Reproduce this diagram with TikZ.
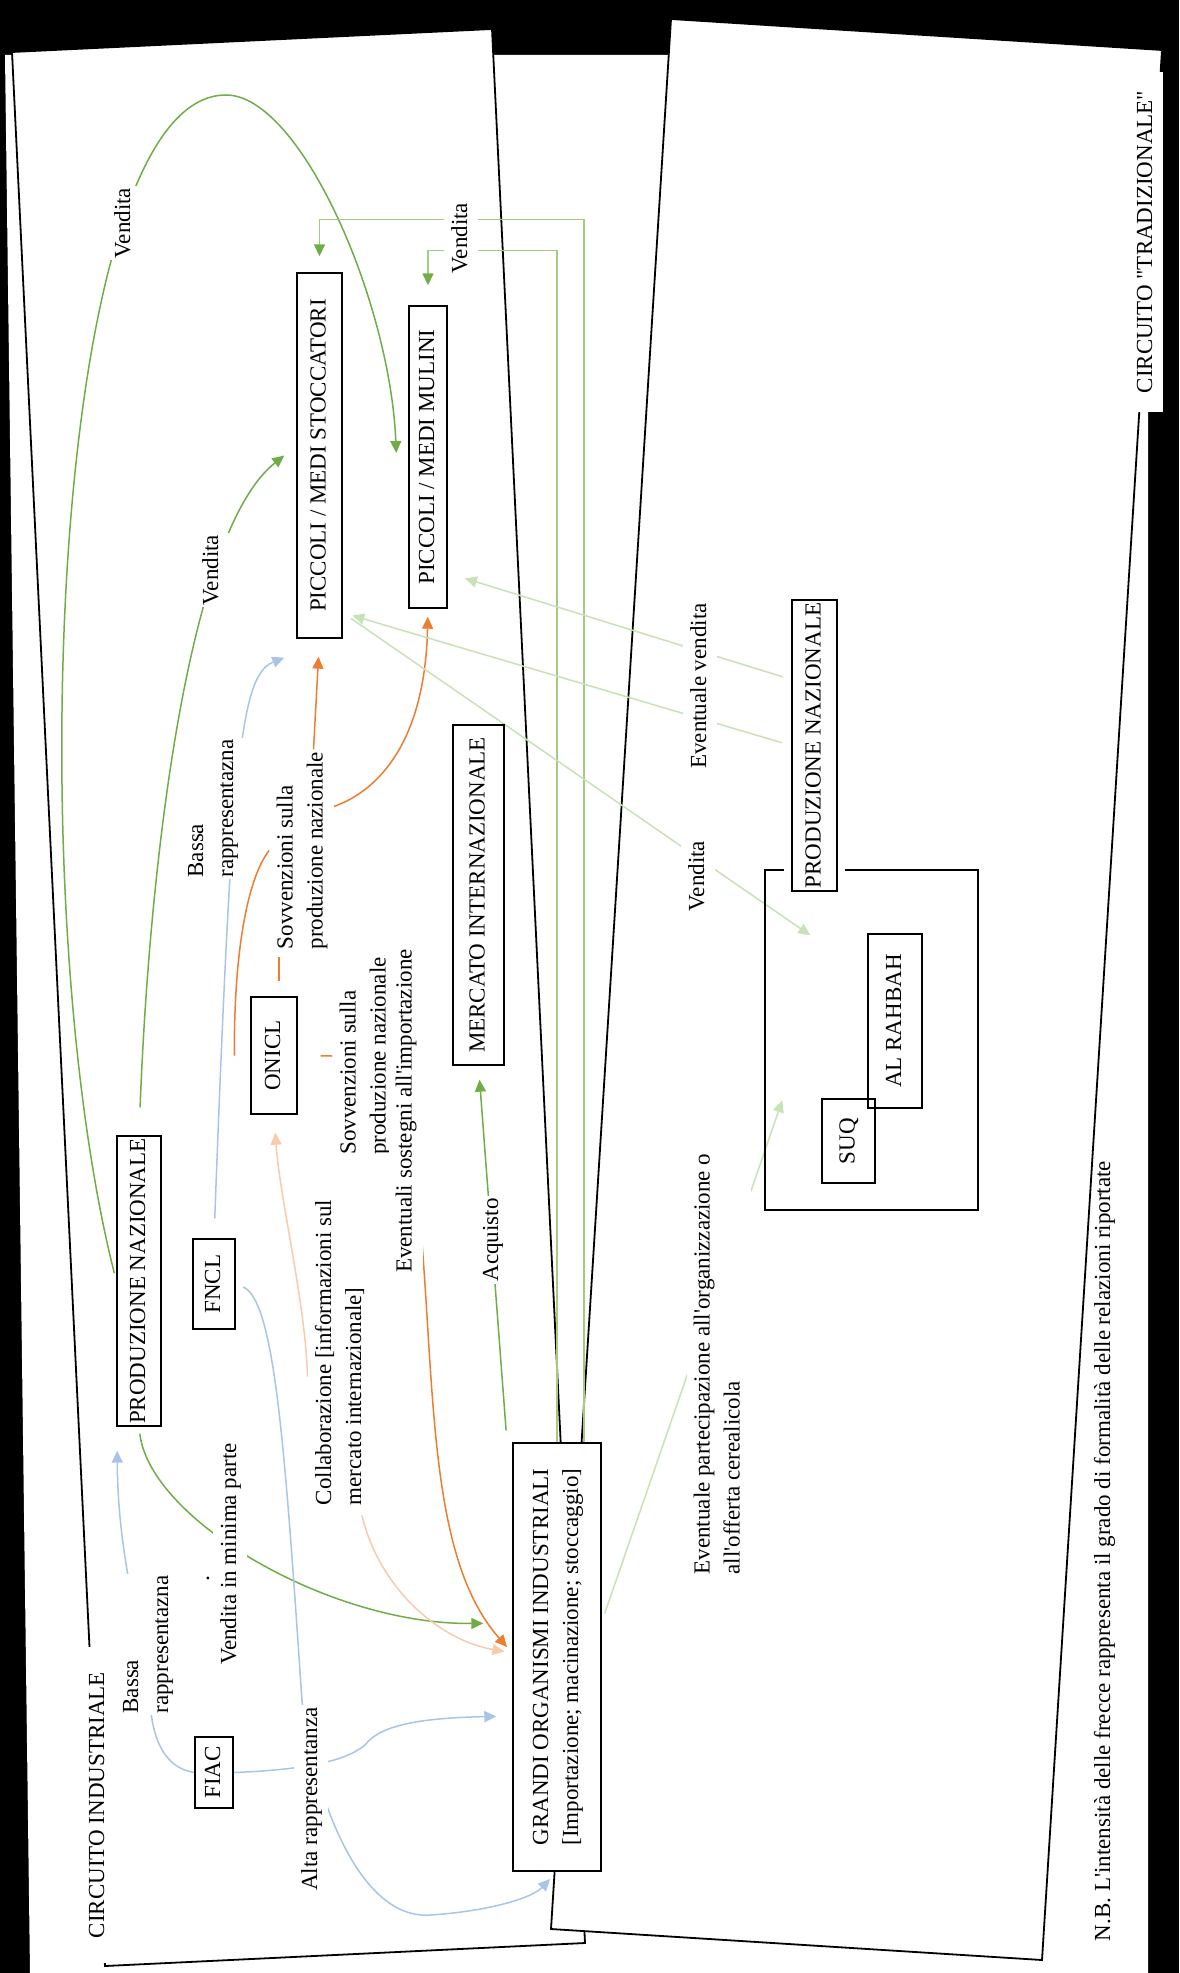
\documentclass[tikz,border=0pt]{standalone}
\usepackage{fontspec}
\setmainfont{Liberation Serif}[Ligatures=TeXOff]
\usepackage{graphicx}
\usetikzlibrary{arrows.meta}

\definecolor{gdark}{RGB}{112,173,71}
\definecolor{glite}{RGB}{160,205,130}
\definecolor{gpale}{RGB}{200,226,184}
\definecolor{orng}{RGB}{237,125,49}
\definecolor{opale}{RGB}{248,203,173}
\definecolor{blu}{RGB}{170,196,232}

\pgfdeclarelayer{back}
\pgfdeclarelayer{mid}
\pgfsetlayers{back,mid,main}

\newcommand{\vtxt}[1]{\rotatebox{90}{\begin{tabular}{@{}l@{}}#1\end{tabular}}}

\tikzset{
  box/.style={draw, fill=white, line width=0.7pt, inner sep=0pt},
  tbox/.style={draw, line width=0.7pt, inner sep=0pt},
  lbl/.style={fill=white, inner sep=1pt},
  panel/.style={draw, fill=white, line width=0.9pt},
  halo/.style={preaction={draw=white, line width=8pt}},
  con/.style={line width=0.75pt},
  tip/.style={-{Triangle[length=6pt,width=5.5pt]}},
}

\begin{document}
\begin{tikzpicture}[x=0.5pt, y=-0.5pt, font=\fontsize{11.5}{15}\selectfont]
\useasboundingbox (0,0) rectangle (1179,1973);

\begin{pgfonlayer}{back}
\fill[black] (0,0) rectangle (1179,1973);
\fill[white] (5,55) -- (1148,55) -- (1148,1973) -- (30,1973) -- cycle;
% the two circuits
\draw[panel] (12,52) -- (492,29) -- (585,1943) -- (105,1966) -- cycle;
\draw[panel] (671,19) -- (1162,50) -- (1042,1960) -- (551,1929) -- cycle;
\end{pgfonlayer}

% traditional market
\node[tbox, minimum width=106.5pt, minimum height=170pt] (trad) at (871.5,1040) {};
\node[tbox, minimum width=27pt, minimum height=87pt] (rahbah) at (895,1021) {\vtxt{AL RAHBAH}};
\node[tbox, minimum width=26.5pt, minimum height=42pt] (suq) at (848.5,1141) {\vtxt{SUQ}};

% labels
\node[lbl] (lv1) at (124,223) {\vtxt{Vendita}};
\node[lbl] (lv2) at (212,570) {\vtxt{Vendita}};
\node[lbl] (lv3) at (461,238) {\vtxt{Vendita}};
\node[lbl] (lb1) at (212,808.5) {\vtxt{Bassa\\rappresentazna}};
\node[lbl] (ls1) at (301.5,850.5) {\vtxt{Sovvenzioni sulla\\produzione nazionale}};
\node[lbl] (ls2) at (364.5,1056) {\vtxt{Sovvenzioni sulla\\produzione nazionale}};
\node[lbl] (les) at (405.5,1111) {\vtxt{Eventuali sostegni all'importazione}};
\node[lbl] (lc) at (340,1352.5) {\vtxt{Collaborazione [informazioni sul\\mercato internazionale]}};
\node[lbl] (lacq) at (492,1240) {\vtxt{Acquisto}};
\node[lbl] (lvmp) at (230,1554) {\vtxt{Vendita in minima parte}};
\node[inner sep=0pt] (dot) at (208,1578) {.};
\node[lbl] (lb2) at (147,1644.5) {\vtxt{Bassa\\rappresentazna}};
\node[lbl] (lalta) at (311,1799) {\vtxt{Alta rappresentanza}};
\node[fill=white, inner sep=0pt, minimum width=13pt, minimum height=158pt] (lci) at (98,1805) {\vtxt{CIRCUITO INDUSTRIALE}};
\node[fill=white, inner sep=0pt, minimum width=17pt, minimum height=170pt] (lct) at (1146,242) {\vtxt{CIRCUITO "TRADIZIONALE"}};
\node[lbl] (lev) at (700,686) {\vtxt{Eventuale vendita}};
\node[lbl] (lv4) at (698,876) {\vtxt{Vendita}};
\node[lbl] (lep) at (718.5,1364) {\vtxt{Eventuale partecipazione all'organizzazione o\\all'offerta cerealicola}};
\node (lnb) at (1104,1551) {\vtxt{N.B. L'intensità delle frecce rappresenta il grado di formalità delle relazioni riportate}};

% actors
\node[box, minimum width=22.5pt, minimum height=182.5pt] (stocc) at (319.5,455.5) {\vtxt{PICCOLI / MEDI STOCCATORI}};
\node[box, minimum width=19pt, minimum height=151pt] (mulini) at (428,457) {\vtxt{PICCOLI / MEDI MULINI}};
\node[box, minimum width=25.5pt, minimum height=170pt] (mercato) at (478.5,895) {\vtxt{MERCATO INTERNAZIONALE}};
\node[box, minimum width=23pt, minimum height=58.5pt] (onicl) at (274,1055.5) {\vtxt{ONICL}};
\node[box, minimum width=21pt, minimum height=45pt] (fncl) at (214,1284) {\vtxt{FNCL}};
\node[box, minimum width=22pt, minimum height=145pt] (pnl) at (139,1281) {\vtxt{PRODUZIONE NAZIONALE}};
\node[box, minimum width=19pt, minimum height=35.5pt] (fiac) at (214,1772.5) {\vtxt{FIAC}};
\node[box, minimum width=44pt, minimum height=214pt] (grandi) at (557,1657)
  {\vtxt{GRANDI ORGANISMI INDUSTRIALI\\ \relax[Importazione; macinazione; stoccaggio]}};
\node[box, halo, minimum width=22.5pt, minimum height=145.5pt] (pnr) at (814.5,745.5) {\vtxt{PRODUZIONE NAZIONALE}};

\coordinate (sost) at (421,1230);

\begin{pgfonlayer}{mid}
% green
\draw[con, gdark, tip, shorten <=4pt] (pnl.west) .. controls (20,900) and (50,95) .. (226,95)
  .. controls (300,95) and (390,300) .. ([xshift=-6pt,yshift=2pt]mulini.west);
\draw[con, gdark, tip, shorten <=14pt] (pnl.north) .. controls (150,850) and (190,530) .. ([xshift=-6pt]stocc.west);
\draw[con, glite, -{Triangle[length=6pt,width=5.5pt,color=gdark]}, shorten >=8pt]
  ([xshift=13.5pt]grandi.north) -- ++(0,-1223) -| (stocc.north);
\draw[con, glite, -{Triangle[length=6pt,width=5.5pt,color=gdark]}, shorten >=10pt]
  (grandi.north) -- ++(0,-1192) -| (mulini.north);
\draw[con, gdark, tip, shorten <=6pt, shorten >=7pt] ([xshift=-25pt]grandi.north) -- (mercato.south);
\draw[con, gdark, tip, shorten <=3.5pt, shorten >=14.5pt] (pnl.south) .. controls (150,1520) and (330,1625) .. ([yshift=17pt]grandi.west);

% orange
\draw[con, opale, tip, shorten >=9pt] ([yshift=-12pt]lc.west) .. controls (305,1300) and (280,1200) .. (onicl.south);
\draw[con, opale, tip, shorten <=4pt, shorten >=4pt] ([xshift=10pt]lc.south) .. controls (380,1590) and (440,1640) .. ([yshift=2pt]grandi.west);
\draw[con, orng, tip, shorten >=4pt] (sost) .. controls (435,1400) and (430,1560) .. ([yshift=2pt]grandi.west);
\draw[con, orng] ([xshift=-8pt]onicl.west) .. controls (234,940) and (250,875) .. (ls1.west);
\draw[con, orng, shorten <=7.5pt] ([xshift=2.5pt]onicl.north) -- ++(0,-39);
\draw[con, orng, shorten <=11.5pt] (onicl.east) -- (ls2.west);
\draw[con, orng, tip, shorten >=9pt] ([xshift=6pt]ls1.north) -- (stocc.south);
\draw[con, orng, tip, shorten >=4pt] ([yshift=22pt]ls1.east) .. controls (380,790) and (425,740) .. (mulini.south);

% blue
\draw[con, blu, tip, shorten <=10pt] (fncl.north) .. controls (232,760) and (240,675) .. ([xshift=-6pt,yshift=-9.5pt]stocc.south west);
\draw[con, blu, tip, shorten <=4pt, shorten >=5pt] (fncl.east) .. controls (275,1300) and (285,1450) .. (302,1701)
  .. controls (315,1800) and (360,1920) .. (430,1915) .. controls (480,1912) and (530,1900) .. (grandi.south);
\draw[con, blu, tip, shorten >=8pt] (fiac.east) .. controls (300,1770) and (345,1762) .. (365,1745)
  .. controls (380,1725) and (420,1718) .. ([yshift=-29.5pt]grandi.west);
\draw[con, blu, tip, shorten >=12pt] (fiac.west) .. controls (165,1768) and (152,1740) .. (150,1700)
  .. controls (140,1620) and (118,1560) .. ([xshift=-11pt]pnl.south);

% pale green
\draw[con, gpale, tip, shorten <=4.5pt, shorten >=9pt] ([yshift=33pt]pnr.west) -- ([yshift=-58pt]mulini.east);
\draw[con, gpale, tip, shorten <=5pt, shorten >=5pt] (pnr.west) -- ([yshift=13pt]stocc.south east);
\draw[con, gpale, tip, shorten <=5pt] ([yshift=13pt]stocc.south east) -- ([xshift=23pt,yshift=-33pt]trad.north west);
\draw[con, gpale, tip, shorten <=4.5pt] ([yshift=17.5pt]grandi.east) -- ([xshift=9pt,yshift=-115.5pt]trad.north west);
\end{pgfonlayer}
\end{tikzpicture}
\end{document}
